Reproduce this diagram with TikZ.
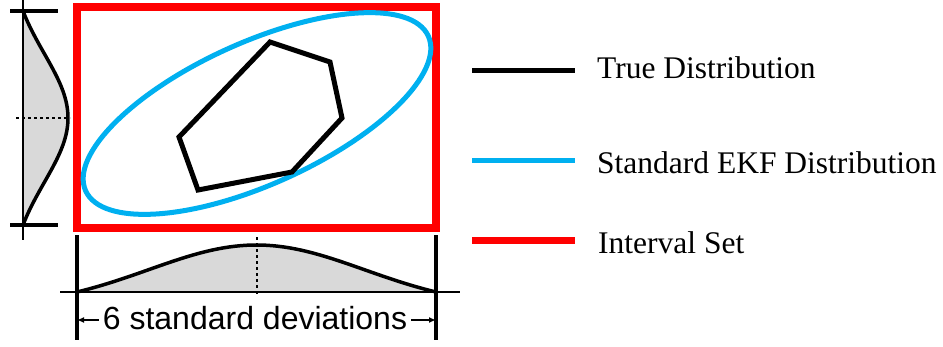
\documentclass[tikz,border=0pt]{standalone}
\usepackage{fontspec}
\setmainfont{Liberation Serif}
\setsansfont{Liberation Sans}
\usepackage{tikz}
\usetikzlibrary{arrows.meta,positioning,calc}
\definecolor{ink}{RGB}{0,0,0}
\definecolor{ekfblue}{RGB}{0,176,240}
\definecolor{intervalred}{RGB}{255,0,0}
\definecolor{pdfgray}{RGB}{217,217,217}

\begin{document}
\begin{tikzpicture}[x=1pt,y=-1pt,
    declare function={bump(\t)=(exp(-\t*\t/0.72)-exp(-1/0.72))/(1-exp(-1/0.72));},
    axisline/.style={ink,line width=2pt},
    tickline/.style={ink,line width=3.5pt},
    pdfcurve/.style={ink,line width=3.5pt},
    meanline/.style={ink,line width=2.5pt,dash pattern=on 3pt off 3pt},
    sdarrow/.style={ink,line width=1.5pt,-{Latex[length=7pt,width=6pt]}},
    legtext/.style={anchor=base west,inner sep=0pt,
      font=\fontsize{31.5}{36}\selectfont}]
    \useasboundingbox (0,0) rectangle (943,346);
    % left marginal
    \fill[pdfgray] plot[domain=-1:1,samples=60,variable=\t]
      ({23+45*bump(\t)},{118+107*\t}) -- cycle;
    \draw[axisline] (23,0) -- (23,240);
    \draw[pdfcurve] plot[domain=-1:1,samples=60,variable=\t]
      ({23+45*bump(\t)},{118+107*\t});
    \draw[tickline] (10,11) -- (58,11);
    \draw[tickline] (10,225) -- (58,225);
    \draw[meanline] (16,118) -- (70,118);
    % bottom marginal
    \fill[pdfgray] plot[domain=-1:1,samples=60,variable=\t]
      ({256.5+179.5*\t},{292-47*bump(\t)}) -- cycle;
    \draw[axisline] (60,292) -- (460,292);
    \draw[pdfcurve] plot[domain=-1:1,samples=60,variable=\t]
      ({256.5+179.5*\t},{292-47*bump(\t)});
    \draw[tickline] (77,235) -- (77,340);
    \draw[tickline] (436,235) -- (436,340);
    \draw[meanline] (257,237) -- (257,295);
    \node[anchor=base,inner sep=4pt,
      font=\sffamily\fontsize{32}{36}\selectfont] (sd) at (255,329)
      {6 standard deviations};
    \coordinate (sdleft) at (77,320);
    \coordinate (sdright) at (436,320);
    \draw[sdarrow] (sd.west |- sdleft) -- (sdleft);
    \draw[sdarrow] (sd.east |- sdright) -- (sdright);
    % joint sets
    \draw[intervalred,line width=8pt] (77,7) rectangle (435.5,228);
    \draw[ekfblue,line width=5pt,rotate around={24.3:(257,113.5)}]
      (257,113.5) ellipse [x radius=188,y radius=71];
    \draw[ink,line width=5pt,line join=miter]
      (270,42) -- (330,62) -- (342,118) -- (292,172)
      -- (198,190) -- (179,137) -- cycle;
    % legend
    \node[legtext] (truelbl) at (597,78) {True Distribution};
    \node[legtext] (ekflbl) at (597,173) {Standard EKF Distribution};
    \node[legtext] (intlbl) at (598,253) {Interval Set};
    \draw[ink,line width=5pt] (472,70) -- (575,70);
    \draw[ekfblue,line width=5pt] (472,160) -- (575,160);
    \draw[intervalred,line width=7pt] (472,240) -- (575,240);
  \end{tikzpicture}
\end{document}
